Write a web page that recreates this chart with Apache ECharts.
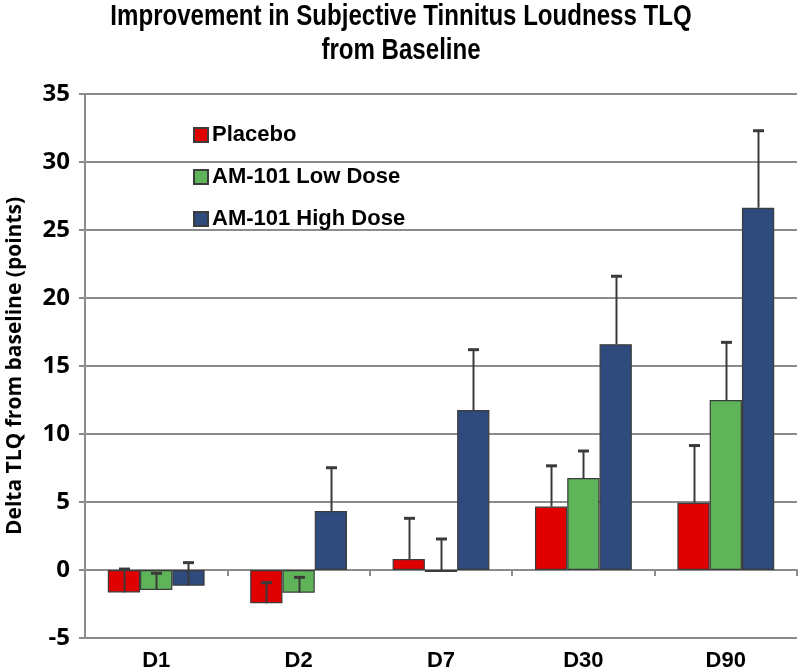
<!DOCTYPE html>
<html>
<head>
<meta charset="utf-8">
<script src="https://cdn.jsdelivr.net/npm/echarts@6/dist/echarts.min.js"></script>
<style>html,body{margin:0;padding:0;background:#fff}#c{width:800px;height:670px}</style>
</head>
<body>
<div id="c"></div>
<script>
const categories = ['D1', 'D2', 'D7', 'D30', 'D90'];
const seriesNames = ['Placebo', 'AM-101 Low Dose', 'AM-101 High Dose'];
const placebo = [-1.65, -2.45, 0.8, 4.66, 4.95];
const lowDose = [-1.47, -1.67, -0.15, 6.76, 12.5];
const highDose = [-1.15, 4.34, 11.76, 16.6, 26.64];
const placeboErr = [1.72, 1.52, 3.0, 3.0, 4.2];
const lowDoseErr = [1.23, 1.13, 2.43, 1.99, 4.24];
const highDoseErr = [1.69, 3.18, 4.44, 5.0, 5.66];
const yTicks = [-5, 0, 5, 10, 15, 20, 25, 30, 35];
const titleText = 'Improvement in Subjective Tinnitus Loudness TLQ\nfrom Baseline';

const values = [placebo, lowDose, highDose];
const errs = [placeboErr, lowDoseErr, highDoseErr];
const colors = ['#E00000', '#5FB358', '#2F4A7C'];
const GAP = 0.32;

const chart = echarts.init(document.getElementById('c'));
const barSeries = seriesNames.map((n, i) => ({
  name: n, type: 'bar', xAxisIndex: 0, data: values[i],
  barGap: '0%', barCategoryGap: (GAP * 100) + '%',
  itemStyle: { color: colors[i], borderColor: '#3c3c3c', borderWidth: 1.2 },
  z: 2
}));
const errSeries = seriesNames.map((n, i) => ({
  name: n + ' err', type: 'custom', xAxisIndex: 0,
  data: values[i].map((v, k) => [k, v, errs[i][k]]),
  encode: { x: 0, y: 1 },
  z: 5,
  renderItem: function (params, api) {
    const xi = api.value(0), v = api.value(1), e = api.value(2);
    const catW = api.size([1, 0])[0];
    const bw = catW * (1 - GAP) / 3;
    const off = (i - 1) * bw;
    const p0 = api.coord([xi, v]);
    const p1 = api.coord([xi, v + e]);
    const x = Math.round(p0[0] + off) + 0.5;
    return {
      type: 'group', children: [
        { type: 'line', shape: { x1: x, y1: p0[1], x2: x, y2: p1[1] }, style: { stroke: '#3a3a3a', lineWidth: 2 } },
        { type: 'line', shape: { x1: x - 5.5, y1: p1[1], x2: x + 5.5, y2: p1[1] }, style: { stroke: '#3a3a3a', lineWidth: 3 } }
      ]
    };
  }
}));

chart.setOption({
  animation: false,
  backgroundColor: '#fff',
  graphic: [{
    type: 'text', x: 401, y: 0, scaleX: 0.83,
    style: { text: titleText, font: 'bold 29px "Liberation Sans", Arial, sans-serif', textAlign: 'center', textVerticalAlign: 'top', lineHeight: 34, fill: '#000' }
  }],
  legend: {
    data: seriesNames, orient: 'vertical', left: 188, top: 119,
    itemWidth: 14, itemHeight: 14, itemGap: 20, icon: 'rect',
    textStyle: { fontFamily: '"Liberation Sans", Arial, sans-serif', fontWeight: 'bold', fontSize: 22, color: '#000', padding: [0, 0, 0, -1] }
  },
  grid: { left: 85, right: 3, top: 94, bottom: 32, containLabel: false, outerBoundsMode: 'none' },
  xAxis: [{
    type: 'category', data: categories, position: 'bottom',
    axisLine: { show: false, onZero: false }, axisTick: { show: false },
    axisLabel: { margin: 12, fontFamily: '"Liberation Sans", Arial, sans-serif', fontWeight: 'bold', fontSize: 22, color: '#000' }
  }, {
    type: 'category', data: categories, position: 'bottom',
    axisLine: { show: true, onZero: true, lineStyle: { color: '#8c8c8c', width: 2 } },
    axisTick: { show: true, length: 6, lineStyle: { color: '#8c8c8c', width: 2 } },
    axisLabel: { show: false }
  }],
  yAxis: {
    type: 'value', min: -5, max: 35, interval: 5,
    name: 'Delta TLQ from baseline (points)', nameLocation: 'middle', nameGap: 59, nameRotate: 90,
    nameTextStyle: { fontFamily: '"Open Sans", "Noto Sans", sans-serif', fontWeight: 'bold', fontSize: 21, color: '#000' },
    axisLine: { show: true, lineStyle: { color: '#8c8c8c', width: 2 } },
    axisTick: { show: true, length: 6, lineStyle: { color: '#8c8c8c', width: 2 } },
    axisLabel: { margin: 15, fontFamily: '"Open Sans", "Noto Sans", sans-serif', fontWeight: 'bold', fontSize: 24, color: '#000',
      formatter: v => yTicks.indexOf(v) >= 0 ? String(v) : '' },
    splitLine: { show: true, lineStyle: { color: '#8c8c8c', width: 2 } }
  },
  series: barSeries.concat(errSeries)
});
</script>
</body>
</html>
